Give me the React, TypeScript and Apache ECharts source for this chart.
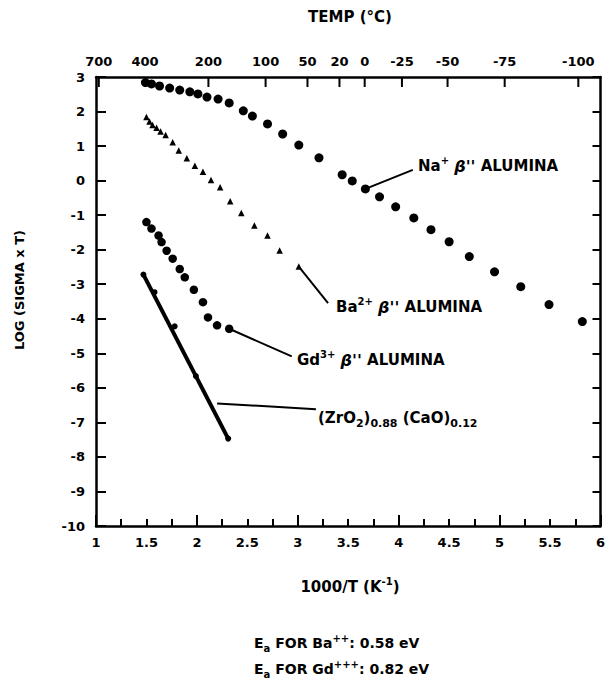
import React, { useEffect, useRef } from "react";
import * as echarts from "echarts";

// Na+ beta'' alumina
const naX = [1.49, 1.55, 1.63, 1.73, 1.83, 1.93, 2.01, 2.10, 2.21, 2.32, 2.46, 2.55, 2.70, 2.85, 3.01, 3.21, 3.44, 3.54, 3.67, 3.81, 3.97, 4.15, 4.32, 4.50, 4.70, 4.95, 5.21, 5.49, 5.82];
const naY = [2.84, 2.80, 2.74, 2.68, 2.62, 2.57, 2.51, 2.42, 2.36, 2.25, 2.02, 1.87, 1.64, 1.35, 1.03, 0.66, 0.17, -0.01, -0.24, -0.47, -0.76, -1.08, -1.42, -1.77, -2.20, -2.64, -3.07, -3.59, -4.08];
// Ba2+ beta'' alumina
const baX = [1.50, 1.53, 1.56, 1.60, 1.64, 1.69, 1.76, 1.82, 1.90, 1.98, 2.06, 2.14, 2.23, 2.33, 2.44, 2.57, 2.70, 2.82, 3.01];
const baY = [1.84, 1.71, 1.61, 1.53, 1.42, 1.32, 1.11, 0.87, 0.65, 0.43, 0.26, 0.02, -0.19, -0.60, -0.94, -1.30, -1.59, -2.02, -2.49];
// Gd3+ beta'' alumina
const gdX = [1.50, 1.55, 1.62, 1.65, 1.70, 1.76, 1.83, 1.88, 1.97, 2.06, 2.11, 2.20, 2.32];
const gdY = [-1.20, -1.39, -1.59, -1.78, -2.03, -2.26, -2.56, -2.80, -3.16, -3.52, -3.96, -4.19, -4.29];
// (ZrO2)0.88 (CaO)0.12
const zrX = [1.47, 1.58, 1.78, 1.99, 2.31];
const zrY = [-2.72, -3.23, -4.22, -5.66, -7.47];

// leader lines [from, to]
const naLeader = [[3.67, -0.24], [4.14, 0.31]];
const baLeader = [[3.01, -2.49], [3.30, -3.55]];
const gdLeader = [[2.32, -4.29], [2.94, -5.09]];
const zrLeader = [[2.20, -6.45], [3.18, -6.62]];

// top axis temperatures (deg C)
const tempTicks = [700, 400, 200, 100, 50, 20, 0, -25, -50, -75, -100];
const tempPos = tempTicks.map((t) => 1000 / (t + 273));

const xMin = 1, xMax = 6, yMin = -10, yMax = 3;

const FONT = "DejaVu Sans";

const zip = (xs: number[], ys: number[]) => xs.map((x, i) => [x, ys[i]]);

export default function App() {
  const ref = useRef<HTMLDivElement>(null);
  useEffect(() => {
    if (!ref.current) return;
    const chart = echarts.init(ref.current, null, { renderer: "svg" });
    const black = "#000";
    const labelStyle = { color: black, fontFamily: FONT, fontWeight: "bold" as const, fontSize: 13 };
    const tickStyle = { color: black, width: 2 };
    const leader = (d: number[][]) => ({
      type: "line",
      data: d,
      symbol: "none",
      lineStyle: { color: black, width: 2 },
      z: 3,
      silent: true,
    });
    const richSet = (size: number, small: number, lh: number) => ({
      m: { fontFamily: FONT, fontWeight: "bold", fontSize: size, fill: black, lineHeight: lh, verticalAlign: "middle" },
      b: { fontFamily: FONT, fontWeight: "bold", fontStyle: "italic", fontSize: size + 1, fill: black, lineHeight: lh, verticalAlign: "middle" },
      sup: { fontFamily: FONT, fontWeight: "bold", fontSize: small, fill: black, lineHeight: lh, verticalAlign: "top" },
      sub: { fontFamily: FONT, fontWeight: "bold", fontSize: small, fill: black, lineHeight: lh, verticalAlign: "bottom" },
    });
    const richText = (x: number, y: number, text: string, size: number, small: number, lh: number, align = "left") => ({
      type: "text",
      x,
      y,
      z: 10,
      style: { text, rich: richSet(size, small, lh), fill: black, textAlign: align, textVerticalAlign: "middle" },
    });
    chart.setOption({
      animation: false,
      backgroundColor: "#fff",
      grid: { left: 96, right: 7, top: 77, bottom: 160 },
      xAxis: [
        {
          type: "value",
          position: "bottom",
          min: xMin,
          max: xMax,
          interval: 0.25,
          axisLine: { show: true, onZero: false, lineStyle: { color: black, width: 2.5 } },
          axisTick: { show: true, inside: true, length: 7, lineStyle: tickStyle },
          axisLabel: {
            ...labelStyle,
            margin: 10,
            formatter: (v: number) => (Math.abs(v * 2 - Math.round(v * 2)) < 1e-6 ? String(v) : ""),
          },
          splitLine: { show: false },
        },
        {
          type: "value",
          position: "top",
          min: xMin,
          max: xMax,
          axisLine: { show: true, onZero: false, lineStyle: { color: black, width: 2.5 } },
          axisTick: { show: false },
          axisLabel: {
            ...labelStyle,
            margin: 9,
            customValues: tempPos,
            formatter: (v: number) => String(Math.round(1000 / v - 273)),
          },
          splitLine: { show: false },
        },
        {
          type: "value",
          position: "bottom",
          min: xMin,
          max: xMax,
          interval: 1,
          axisLine: { show: false, onZero: false },
          axisTick: { show: true, inside: true, length: 11, lineStyle: tickStyle },
          axisLabel: { show: false },
          splitLine: { show: false },
        },
      ],
      yAxis: [
        {
          type: "value",
          position: "left",
          min: yMin,
          max: yMax,
          interval: 1,
          axisLine: { show: true, onZero: false, lineStyle: { color: black, width: 2.5 } },
          axisTick: { show: true, inside: true, length: 10, lineStyle: tickStyle },
          axisLabel: { ...labelStyle, margin: 11 },
          splitLine: { show: false },
        },
        {
          type: "value",
          position: "right",
          min: yMin,
          max: yMax,
          interval: 1,
          axisLine: { show: true, onZero: false, lineStyle: { color: black, width: 2.5 } },
          axisTick: { show: true, inside: true, length: 8, lineStyle: tickStyle },
          axisLabel: { show: false },
          splitLine: { show: false },
        },
      ],
      series: [
        {
          type: "scatter",
          name: "top ticks",
          data: tempPos.map((p) => [p, yMax]),
          symbol: "rect",
          symbolSize: [2, 10],
          symbolOffset: [0, 5],
          clip: false,
          silent: true,
          itemStyle: { color: black, opacity: 1 },
        },
        {
          type: "scatter",
          name: "Na",
          data: zip(naX, naY),
          symbol: "circle",
          symbolSize: 9,
          itemStyle: { color: black, opacity: 1 },
        },
        {
          type: "scatter",
          name: "Ba",
          data: zip(baX, baY),
          symbol: "triangle",
          symbolSize: 6.5,
          itemStyle: { color: black, opacity: 1 },
        },
        {
          type: "scatter",
          name: "Gd",
          data: zip(gdX, gdY),
          symbol: "circle",
          symbolSize: 8.5,
          itemStyle: { color: black, opacity: 1 },
        },
        {
          type: "line",
          name: "ZrO2 fit",
          data: [[zrX[0], zrY[0]], [zrX[zrX.length - 1], zrY[zrY.length - 1]]],
          symbol: "none",
          lineStyle: { color: black, width: 4 },
        },
        {
          type: "scatter",
          name: "ZrO2",
          data: zip(zrX, zrY),
          symbol: "circle",
          symbolSize: 6,
          itemStyle: { color: black, opacity: 1 },
        },
        leader(naLeader),
        leader(baLeader),
        leader(gdLeader),
        leader(zrLeader),
      ],
      graphic: [
        {
          type: "text",
          x: 350,
          y: 17,
          style: { text: "TEMP (°C)", fill: black, font: `bold 15px "${FONT}"`, textAlign: "center", textVerticalAlign: "middle" },
        },
        {
          type: "text",
          x: 19,
          y: 290,
          rotation: Math.PI / 2,
          style: { text: "LOG (SIGMA x T)", fill: black, font: `bold 13px "${FONT}"`, textAlign: "center", textVerticalAlign: "middle" },
        },
        richText(350, 587, "{m|1000/T (K}{sup|-1}{m|)}", 15, 10, 22, "center"),
        richText(254, 643, "{m|E}{sub|a}{m| FOR Ba}{sup|++}{m|: 0.58 eV}", 14, 10, 20),
        richText(254, 669, "{m|E}{sub|a}{m| FOR Gd}{sup|+++}{m|: 0.82 eV}", 14, 10, 20),
        richText(418, 166, "{m|Na}{sup|+}{m| }{b|β''}{m| ALUMINA}", 15, 10, 22),
        richText(336, 307, "{m|Ba}{sup|2+}{m| }{b|β''}{m| ALUMINA}", 15, 10, 22),
        richText(297, 360, "{m|Gd}{sup|3+}{m| }{b|β''}{m| ALUMINA}", 15, 10, 22),
        richText(318, 418, "{m|(ZrO}{sub|2}{m|)}{sub|0.88}{m| (CaO)}{sub|0.12}", 15, 11, 22),
      ],
    });
    return () => chart.dispose();
  }, []);
  return <div ref={ref} style={{ position: "absolute", left: 0, top: 0, width: 608, height: 686, background: "#fff" }} />;
}
